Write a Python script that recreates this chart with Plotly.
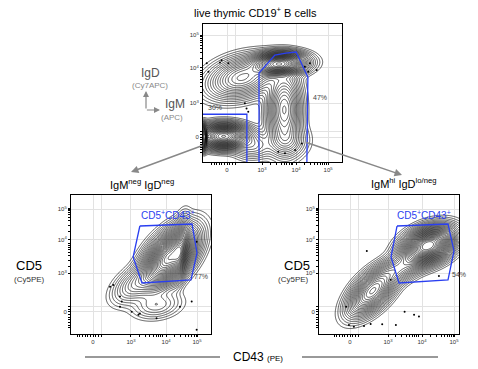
import numpy as np
import plotly.graph_objects as go

W, H = 478, 369
FONT = "Liberation Sans"
BLUE = "#2a3ff0"

# ---------------- tick labels (biexponential display units) ----------------
tick_text = ["0", "10<sup>3</sup>", "10<sup>4</sup>", "10<sup>5</sup>"]
top_xticks = [0, 1.04, 2.05, 3.0]
top_yticks = [0, 1.0, 2.03, 3.0]
bl_xticks = [0, 1.07, 2.06, 2.93]
br_xticks = [0, 1.086, 2.057, 2.971]
bot_yticks = [0, 1.11, 2.06, 2.94]

top_xrange = [-0.712, 3.412]
top_yrange = [-0.735, 3.324]
bl_xrange = [-0.62, 3.324]
br_xrange = [-0.886, 3.114]
bot_yrange = [-0.629, 3.343]

# ---------------- density components (display units, w = peak height) ----------------
# top panel: IgM (x) vs IgD (y)
top_mx = [-0.68, -0.10, 1.55, 0.45, 1.70, 1.75, 0.75]
top_my = [0.00, 0.02, 2.15, 1.75, 0.80, -0.10, -0.25]
top_sx = [0.05, 0.36, 0.38, 0.50, 0.24, 0.30, 0.30]
top_sy = [0.16, 0.17, 0.16, 0.30, 0.55, 0.25, 0.20]
top_rho = [0.0, 0.0, 0.1, 0.3, 0.0, 0.0, 0.0]
top_w = [0.90, 0.80, 0.85, 0.25, 0.28, 0.08, 0.06]

# bottom left: CD43 (x) vs CD5 (y), IgM-neg IgD-neg
bl_mx = [2.15, 2.45, 1.20, 1.80]
bl_my = [1.55, 1.75, 0.80, 0.20]
bl_sx = [0.36, 0.12, 0.32, 0.35]
bl_sy = [0.40, 0.40, 0.28, 0.20]
bl_rho = [0.55, 0.4, 0.5, 0.2]
bl_w = [1.00, 0.35, 0.08, 0.04]

# bottom right: CD43 (x) vs CD5 (y), IgM-hi IgD-lo/neg
br_mx = [2.23, 0.63, 1.40]
br_my = [1.90, 0.58, 1.25]
br_sx = [0.35, 0.33, 0.45]
br_sy = [0.25, 0.33, 0.30]
br_rho = [0.35, 0.6, 0.7]
br_w = [1.00, 0.40, 0.15]

# ---------------- gates (display units) ----------------
gate30_x = [-0.712, 0.59, 0.59]
gate30_y = [0.67, 0.67, -0.735]
gate47_x = [0.95, 0.95, 1.42, 1.75, 2.05, 2.40, 2.37]
gate47_y = [-0.735, 1.88, 2.41, 2.47, 2.50, 1.76, -0.735]
bl_gate_x = [1.32, 2.79, 2.93, 2.76, 1.38, 1.13, 1.32]
bl_gate_y = [2.457, 2.514, 1.686, 0.914, 0.829, 1.571, 2.457]
br_gate_x = [1.343, 2.80, 2.971, 2.80, 1.40, 1.171, 1.343]
br_gate_y = [2.457, 2.514, 1.743, 0.914, 0.829, 1.571, 2.457]

# ---------------- outlier events (display units) ----------------
top_dot_x = [-0.60, -0.55, -0.21, -0.16, 0.04, 2.31, 2.46, 2.66, 0.58, 0.63, 0.53, 1.52, 1.72, 2.02, 2.22, 2.41]
top_dot_y = [2.17, 1.92, 2.19, 2.26, 2.17, 2.07, 2.17, 1.97, 0.84, 0.74, 0.99, -0.43, -0.48, -0.38, -0.19, 1.92]
bl_dot_x = [0.48, 0.57, 0.76, 0.81, 0.76, 1.09, 1.32, 1.79, 2.45, 2.78, 2.92, 1.28, 2.92]
bl_dot_y = [0.72, 0.77, 0.44, 0.30, 0.15, 0.01, -0.04, -0.18, 0.15, 0.30, -0.51, -0.08, 2.01]
br_dot_x = [0.48, -0.11, -0.03, 0.11, 0.40, 0.59, 0.92, 1.31, 1.56, 1.83, 1.97, 2.54, 1.16]
br_dot_y = [1.74, 0.15, -0.37, -0.42, -0.40, -0.34, -0.35, -0.37, 0.01, -0.08, -0.13, 1.03, 0.92]


def density_field(xr, yr, mx, my, sx, sy, rho, w, n=260):
    gx = np.linspace(xr[0], xr[1], n)
    gy = np.linspace(yr[0], yr[1], n)
    X, Y = np.meshgrid(gx, gy)
    Z = np.zeros_like(X)
    for i in range(len(mx)):
        dx = (X - mx[i]) / sx[i]
        dy = (Y - my[i]) / sy[i]
        r = rho[i]
        q = (dx * dx - 2 * r * dx * dy + dy * dy) / (1 - r * r)
        Z += w[i] * np.exp(-q / 2.0)
    return gx, gy, (Z / Z.max()) ** 0.4


fig = go.Figure()

panels = [
    ("x", "y", top_xrange, top_yrange, (top_mx, top_my, top_sx, top_sy, top_rho, top_w),
     (top_dot_x, top_dot_y)),
    ("x2", "y2", bl_xrange, bot_yrange, (bl_mx, bl_my, bl_sx, bl_sy, bl_rho, bl_w),
     (bl_dot_x, bl_dot_y)),
    ("x3", "y3", br_xrange, bot_yrange, (br_mx, br_my, br_sx, br_sy, br_rho, br_w),
     (br_dot_x, br_dot_y)),
]

for xa, ya, xr, yr, comps, dots in panels:
    gx, gy, Z = density_field(xr, yr, *comps)
    fig.add_trace(go.Contour(
        x=gx, y=gy, z=Z, xaxis=xa, yaxis=ya,
        contours=dict(start=0.09, end=0.98, size=0.03, coloring="none"),
        line=dict(color="black", width=0.65), showscale=False, hoverinfo="skip"))
    fig.add_trace(go.Scatter(
        x=dots[0], y=dots[1], xaxis=xa, yaxis=ya, mode="markers",
        marker=dict(color="black", size=2), hoverinfo="skip", showlegend=False))

# gates
for gx_, gy_, xa, ya in [(gate30_x, gate30_y, "x", "y"), (gate47_x, gate47_y, "x", "y"),
                         (bl_gate_x, bl_gate_y, "x2", "y2"), (br_gate_x, br_gate_y, "x3", "y3")]:
    fig.add_trace(go.Scatter(x=gx_, y=gy_, xaxis=xa, yaxis=ya, mode="lines",
                             line=dict(color=BLUE, width=1.3), hoverinfo="skip",
                             showlegend=False, cliponaxis=False))


def minor_vals(rng):
    vals = [-0.45, -0.38, -0.3, -0.22, -0.15, -0.08, 0.08, 0.15]
    for dec in [1, 2]:
        for k in range(2, 10):
            vals.append(dec + np.log10(k))
    return [v for v in vals if rng[0] < v < rng[1]]


def px_x(x):
    return x / W


def px_y(y):
    return 1 - y / H


axis_common = dict(
    showline=True, linecolor="black", linewidth=1, mirror=True,
    ticks="outside", ticklen=2, tickwidth=1, tickcolor="black",
    showgrid=True, gridcolor="#e2e2e2", gridwidth=1, zeroline=False,
    tickfont=dict(family=FONT, size=6, color="#333"), fixedrange=True,
)

layout_axes = {}
specs = [
    ("xaxis", "yaxis", (203, 342), (24, 162), top_xrange, top_yrange, top_xticks, top_yticks, "y", "x"),
    ("xaxis2", "yaxis2", (71, 211), (195, 334), bl_xrange, bot_yrange, bl_xticks, bot_yticks, "y2", "x2"),
    ("xaxis3", "yaxis3", (319, 459), (195, 334), br_xrange, bot_yrange, br_xticks, bot_yticks, "y3", "x3"),
]
for xk, yk, xd, yd, xr, yr, xt, yt, anchor_x, anchor_y in specs:
    layout_axes[xk] = dict(axis_common, domain=[px_x(xd[0]), px_x(xd[1])], range=xr,
                           tickmode="array", tickvals=xt + [0.25], ticktext=tick_text + [""],
                           anchor=anchor_x,
                           minor=dict(tickmode="array", tickvals=minor_vals(xr), ticklen=2,
                                      tickcolor="black", showgrid=False))
    layout_axes[yk] = dict(axis_common, domain=[px_y(yd[1]), px_y(yd[0])], range=yr,
                           tickmode="array", tickvals=yt + [0.17], ticktext=tick_text + [""],
                           anchor=anchor_y,
                           minor=dict(tickmode="array", tickvals=minor_vals(yr), ticklen=2,
                                      tickcolor="black", showgrid=False))

ann = []


def text(x, y, s, size, color="black", **kw):
    ann.append(dict(x=px_x(x), y=px_y(y), xref="paper", yref="paper", text=s, showarrow=False,
                    font=dict(family=FONT, size=size, color=color), xanchor="center",
                    yanchor="middle", **kw))


text(256, 12, "live thymic CD19<sup>+</sup> B cells", 11)
text(142, 184, "IgM<sup>neg</sup> IgD<sup>neg</sup>", 11)
text(403, 183, "IgM<sup>hi</sup> IgD<sup>lo/neg</sup>", 11)
text(168, 215, "CD5<sup>+</sup>CD43<sup>+</sup>", 10, BLUE)
text(424, 215, "CD5<sup>+</sup>CD43<sup>+</sup>", 10, BLUE)
text(201, 276, "77%", 7, "#444")
text(459, 274, "54%", 7, "#444")
text(215, 107, "30%", 7, "#444")
text(320, 97, "47%", 7, "#444")
text(29, 265, "CD5", 13)
text(29, 279, "(Cy5PE)", 8, "#333")
text(297, 265, "CD5", 13)
text(293, 279, "(Cy5PE)", 8, "#333")
text(150, 73, "IgD", 12, "#555")
text(150, 86, "(Cy7APC)", 8, "#888")
text(175, 104, "IgM", 12, "#555")
text(172, 117, "(APC)", 8, "#888")
text(258, 357, "CD43 <span style='font-size:8px'>(PE)</span>", 12)


def arrow(hx, hy, tx, ty, width=1.5, color="#888", size=1.0):
    ann.append(dict(x=px_x(hx), y=px_y(hy), xref="paper", yref="paper", text="",
                    showarrow=True, axref="pixel", ayref="pixel", ax=tx - hx, ay=ty - hy,
                    arrowhead=2, arrowsize=size, arrowwidth=width, arrowcolor=color,
                    standoff=0, startstandoff=0))


arrow(131, 172, 204, 145)
arrow(402, 175, 305, 142)
arrow(146, 91, 146, 110, width=1.2, size=1.0)
arrow(160, 110, 145.4, 110, width=1.2, size=1.0)

shapes = [
    dict(type="line", xref="paper", yref="paper", x0=px_x(85), x1=px_x(220), y0=px_y(357),
         y1=px_y(357), line=dict(color="#999", width=2)),
    dict(type="line", xref="paper", yref="paper", x0=px_x(302), x1=px_x(438), y0=px_y(357),
         y1=px_y(357), line=dict(color="#999", width=2)),
]

fig.update_layout(
    width=W, height=H, margin=dict(l=0, r=0, t=0, b=0),
    paper_bgcolor="white", plot_bgcolor="white", showlegend=False,
    annotations=ann, shapes=shapes, font=dict(family=FONT), **layout_axes)

fig.write_html("out.html", config={"displayModeBar": False},
               post_script="document.body.style.margin='0px';")
